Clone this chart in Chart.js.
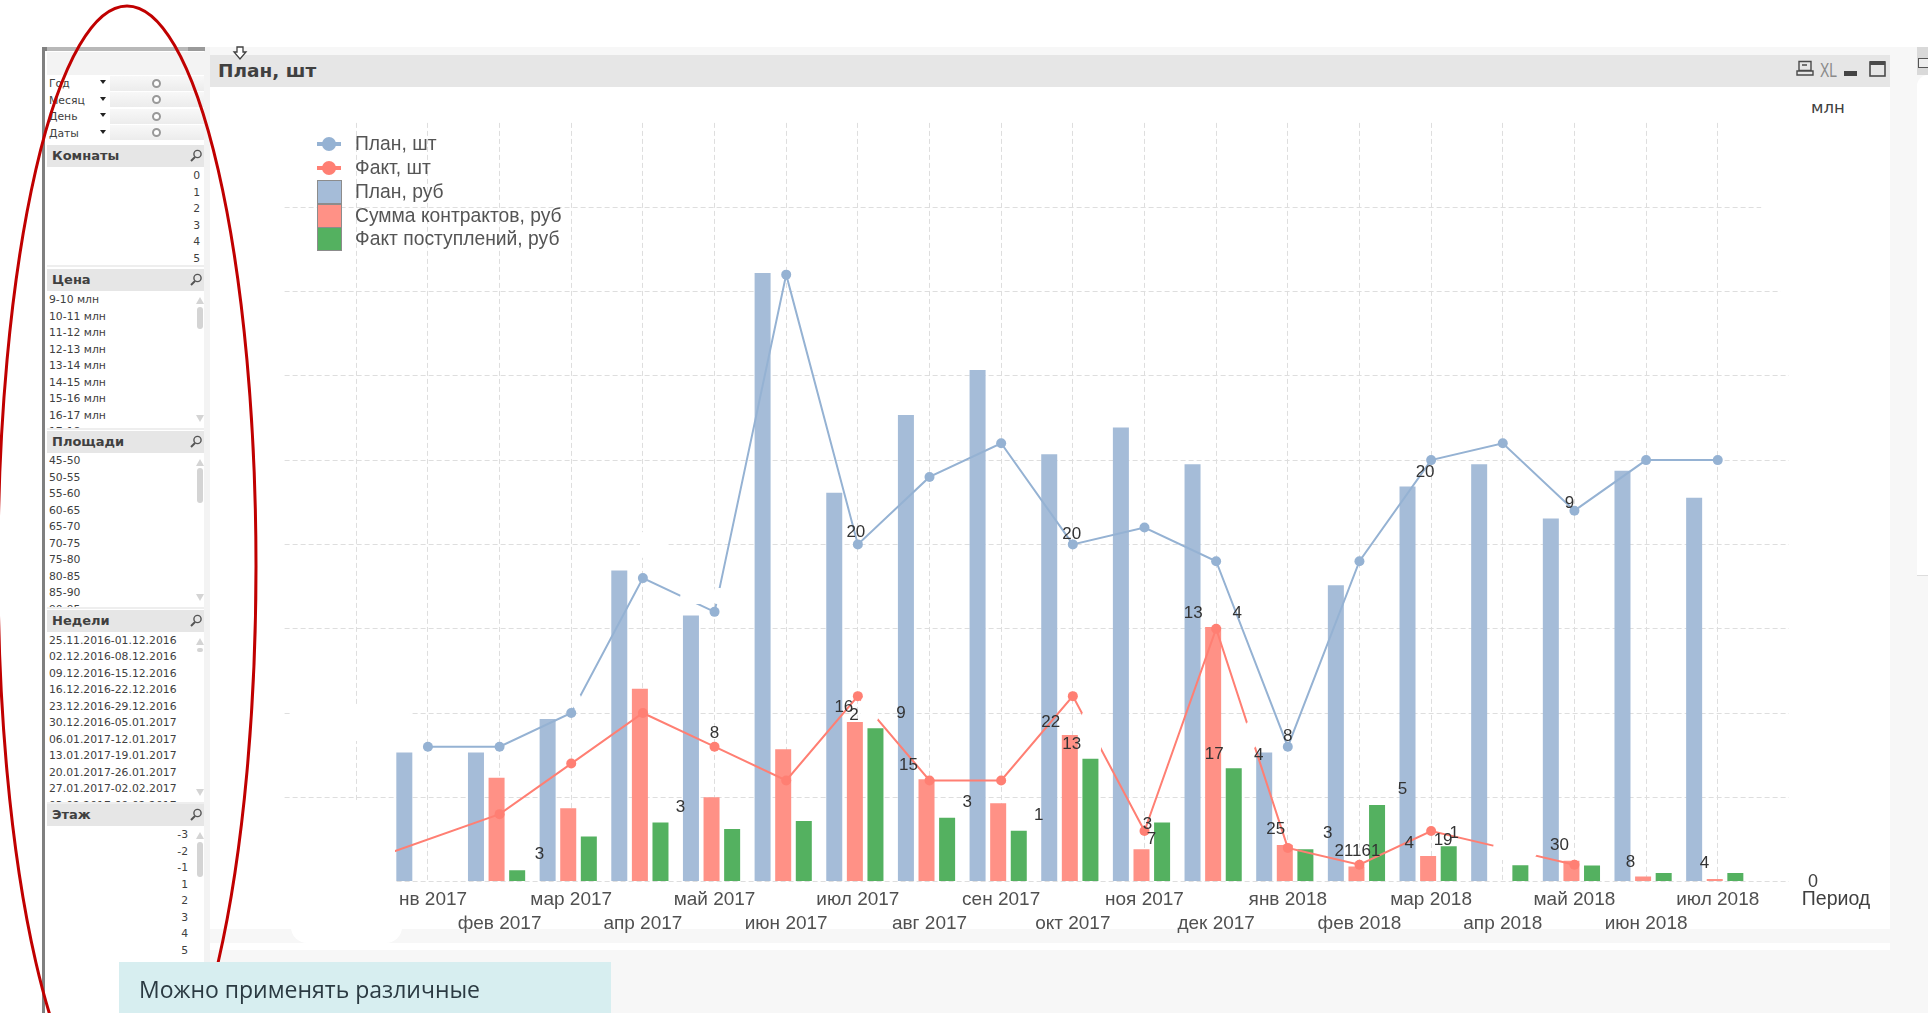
<!DOCTYPE html>
<html lang="ru"><head><meta charset="utf-8">
<script src="https://cdn.jsdelivr.net/npm/chart.js@4/dist/chart.umd.min.js"></script>
<style>
html,body{margin:0;padding:0;background:#fff;width:1928px;height:1013px;overflow:hidden}
body{font-family:"Liberation Sans",sans-serif;color:#404040;position:relative}
.a{position:absolute}
#c{position:absolute;left:0;top:0}
.hdr{position:absolute;left:47px;width:157px;height:22px;background:#e6e6e6;font:bold 13px "DejaVu Sans",sans-serif;line-height:22px;text-indent:5px;color:#404040}
.hdr svg{position:absolute;left:142px;top:4px}
.it{position:absolute;font:10.8px "DejaVu Sans",sans-serif;color:#404040;white-space:nowrap;transform:translateY(-50%)}
.mask{position:absolute;background:#fff;border-radius:8px}
</style></head><body>
<div class="a" style="left:205px;top:47px;right:0;height:8px;background:#f7f7f7"></div>
<div class="a" style="left:204px;top:47px;width:6px;bottom:0;background:#f3f3f3"></div>
<div class="a" style="left:1890px;top:47px;right:0;bottom:0;background:#f7f7f7"></div>
<div class="a" style="left:210px;top:929px;width:1680px;height:14px;background:#f7f7f7"></div>
<div class="a" style="left:210px;top:950px;right:0;bottom:0;background:#f7f7f7"></div>
<div class="a" style="left:210px;top:55px;width:1680px;height:32px;background:#e6e6e6"></div>
<div class="a" style="left:218px;top:57px;font:bold 18.5px 'DejaVu Sans',sans-serif;color:#404040;line-height:28px">План, шт</div>
<svg class="a" style="left:232px;top:46px" width="16" height="14"><path d="M5 1h6v5h3L8 13 2 6h3z" fill="#fff" stroke="#404040" stroke-width="1.3"/></svg>
<div class="a" style="left:1820px;top:58px;font:20px 'Liberation Sans',sans-serif;color:#8a8a8a;transform:scaleX(.7);transform-origin:left;line-height:24px">XL</div>
<svg class="a" style="left:1796px;top:60px" width="92" height="18">
 <path d="M3 1.5h12v9H3zM1 11h16v4H1z" fill="none" stroke="#4a4a4a" stroke-width="1.4"/><path d="M6 5h5" stroke="#4a4a4a" stroke-width="1.5"/>
 <rect x="48" y="11" width="13" height="5" fill="#444"/>
 <rect x="74" y="2" width="15" height="14" fill="none" stroke="#4a4a4a" stroke-width="1.6"/><rect x="74" y="1" width="15" height="4" fill="#4a4a4a"/>
</svg>
<div class="a" style="left:1811px;top:98px;font:16.5px 'DejaVu Sans',sans-serif;color:#404040">млн</div>
<div class="a" style="left:1917px;top:47px;width:11px;height:28px;background:#d9d9d9"></div>
<div class="a" style="left:1918px;top:58px;width:10px;height:10px;background:#eee;border:1.5px solid #555;border-right:0;box-sizing:border-box"></div>
<div class="a" style="left:1917px;top:75px;width:11px;height:500px;background:#fff;border-bottom:1px solid #ddd;border-radius:40px 0 0 0"></div>

<canvas id="c" width="1928" height="1013"></canvas>

<div class="mask" style="left:278px;top:800px;width:117px;height:84px;border-radius:0"></div>
<div class="mask" style="left:278px;top:884px;width:120px;height:44px;border-radius:0"></div>
<div class="mask" style="left:291px;top:927px;width:111px;height:16px;border-radius:0 0 40px 40px"></div>
<div class="mask" style="left:290px;top:705px;width:100px;height:36px;"></div>
<div class="mask" style="left:385px;top:706px;width:25px;height:14px;"></div>
<div class="mask" style="left:573px;top:694px;width:8px;height:15px;"></div>
<div class="mask" style="left:640px;top:530px;width:27px;height:30px;"></div>
<div class="mask" style="left:680px;top:590px;width:30px;height:14px;"></div>
<div class="mask" style="left:714px;top:588px;width:9px;height:16px;border-radius:3px"></div>
<div class="mask" style="left:861px;top:698px;width:17px;height:23px;border-radius:3px"></div>
<div class="mask" style="left:1082px;top:712px;width:19px;height:40px;border-radius:3px"></div>
<div class="mask" style="left:1246px;top:722px;width:10px;height:26px;border-radius:3px"></div>
<div class="mask" style="left:1493px;top:840px;width:44px;height:20px;"></div>
<div class="mask" style="left:1761px;top:196px;width:40px;height:18px;"></div>
<div class="mask" style="left:1780px;top:282px;width:20px;height:16px;"></div>

<div id="side"></div>
<div class="a" style="left:42px;top:47px;width:3px;bottom:0;background:#808080"></div>
<div class="a" style="left:43px;top:47px;width:162px;height:4px;background:#b8b8b8"></div>
<div class="a" style="left:188px;top:47px;width:17px;height:4px;background:#9a9a9a"></div>
<div class="a" style="left:43px;top:47px;width:4px;height:4px;background:#808080"></div>
<div id="leg"></div>
<svg class="a" style="left:0;top:0" width="1928" height="1013"><ellipse cx="127" cy="566" rx="129" ry="560" fill="none" stroke="#c00000" stroke-width="3"/></svg>
<div class="a" style="left:119px;top:962px;width:492px;height:51px;background:#d7eef0;overflow:hidden">
 <div style="position:absolute;left:20px;top:10px;font:23px/34px 'Open Sans',sans-serif;color:#2b3a42;white-space:nowrap">Можно применять различные<br>ф</div>
</div>

<script>
const categories = ['', 'дек 2016', 'янв 2017','фев 2017','мар 2017','апр 2017','май 2017','июн 2017','июл 2017','авг 2017','сен 2017','окт 2017','ноя 2017','дек 2017','янв 2018','фев 2018','мар 2018','апр 2018','май 2018','июн 2018','июл 2018',''];
const planUnits   = [null,null,8,8,10,18,16,36,20,24,26,20,21,19,8,19,25,26,22,25,25,null];
const factUnits   = [null,1,null,4,7,10,8,6,11,6,6,11,3,15,2,1,3,2,1,null,null,null];
const planRub     = [null,null,76.5,76.5,96.4,184.5,157.8,361,230.7,276.7,303.4,253.4,269.4,247.5,76.5,175.7,234.4,247.5,215.4,243.7,227.7,null];
const contractRub = [null,null,null,61.6,43.5,114.4,50,78.5,94.6,60.7,46.4,87,19.2,151,21.7,8.9,15.2,null,12.4,3,1.5,null];
const receiptRub  = [null,null,null,6.7,26.7,35,31.2,36,90.9,37.9,30.2,72.9,35,67.2,19.2,45.4,20.9,9.7,9.5,5.1,5.1,null];
const seriesNames = ['План, шт','Факт, шт','План, руб','Сумма контрактов, руб','Факт поступлений, руб'];
const valueNotes = [
 ['8','fact',6,0,-13],['20','plan',8,-2,-12],['20','plan',11,-1,-10],['4','fact',13,21,-15],['8','plan',14,0,-10],
 ['22','fact',11,-22,26],['21161','fact',15,-2,-13],['19','fact',16,12,9],['4','fact',16,-22,12],['1','fact',16,23,2],
 ['30','fact',18,-15,-19],['20','plan',16,-6,12],['9','plan',18,-5,-7],['8','fact',18,56,-2],['4','fact',18,130,-1],
 ['5','fact',15,43,-75],['15','fact',9,-21,-15],['16','fact',8,-14,11],['2','fact',8,-4,19],['9','fact',8,43,17],
 ['3','fact',12,3,-7],['7','fact',12,7,8],['17','fact',13,-2,126],['4','fact',14,-29,-93],['25','fact',14,-12,-19],['3','fact',14,40,-15],
 ['13','fact',13,-23,-15],['3','fact',10,-34,22],['1','fact',11,-34,119],['13','fact',11,-1,48],['3','fact',6,-34,61],['3','fact',3,40,40]
];
const xLabels = categories.map((c,i)=> (i===1||c==='') ? '' : ((i%2===0) ? [c] : ['', c]));
const gridColor = '#dedede';
const BLUE='#a5bcd8', RED='#ff9186', GREEN='#54b160', LBLUE='#95b2d3', LRED='#ff7f73';

const noteLayer = {
 id:'noteLayer',
 afterDatasetsUpdate(chart){
  chart.data.datasets.forEach((d,i)=>{ if(d.type==='bar') chart.getDatasetMeta(i).data.forEach(b=>{b.x-=3}); });
 },
 afterDatasetsDraw(chart){
  const {ctx,scales}=chart;
  ctx.save(); ctx.font='17px "Liberation Sans",sans-serif'; ctx.fillStyle='#333'; ctx.textAlign='center'; ctx.textBaseline='middle';
  const src={plan:planUnits,fact:factUnits};
  valueNotes.forEach(([t,s,i,dx,dy])=>{ if(src[s][i]==null) return;
    ctx.fillText(t, scales.x.getPixelForValue(i)+dx, scales.y1.getPixelForValue(src[s][i])+dy); });
  ctx.fillStyle='#404040'; ctx.font='18px "Liberation Sans",sans-serif'; ctx.fillText('0',1813,scales.y.getPixelForValue(0)); ctx.font='19.5px "Liberation Sans",sans-serif'; ctx.fillText('Период',1836,900);
  ctx.restore();
 }
};

new Chart(document.getElementById('c'),{
 type:'bar',
 data:{labels:xLabels,datasets:[
  {type:'line',label:seriesNames[0],data:planUnits,yAxisID:'y1',borderColor:LBLUE,backgroundColor:LBLUE,borderWidth:2,pointRadius:5,pointBorderWidth:0,tension:0,order:0,spanGaps:false},
  {type:'line',label:seriesNames[1],data:factUnits,yAxisID:'y1',borderColor:LRED,backgroundColor:LRED,borderWidth:2,pointRadius:c=>c.dataIndex===1?0:5,pointBorderWidth:0,tension:0,order:0,spanGaps:true},
  {type:'bar',label:seriesNames[2],data:planRub,yAxisID:'y',backgroundColor:BLUE,order:1,categoryPercentage:0.8624,barPercentage:0.777},
  {type:'bar',label:seriesNames[3],data:contractRub,yAxisID:'y',backgroundColor:RED,order:1,categoryPercentage:0.8624,barPercentage:0.777},
  {type:'bar',label:seriesNames[4],data:receiptRub,yAxisID:'y',backgroundColor:GREEN,order:1,categoryPercentage:0.8624,barPercentage:0.777}
 ]},
 options:{
  responsive:false,animation:false,
  layout:{padding:{left:284.6,top:122.9,right:88.6,bottom:71.4}},
  plugins:{legend:{display:false},tooltip:{enabled:false}},
  scales:{
   x:{type:'category',offset:false,position:'bottom',
      afterFit:s=>{s.height=60},
      grid:{offset:false,color:c=>(c.index===0||c.index===21)?'transparent':gridColor,lineWidth:1,drawTicks:false},
      border:{display:false,dash:[5,3]},
      ticks:{autoSkip:false,maxRotation:0,minRotation:0,padding:6,color:'#505050',font:{family:'"Liberation Sans",sans-serif',size:19,lineHeight:1.26}}},
   y:{position:'right',min:0,max:450,
      afterFit:s=>{s.width=50},
      afterBuildTicks:s=>{s.ticks=[0,50,100,150,200,250,300,350,400,450].map(v=>({value:v}))},
      grid:{color:c=>c.tick.value===450?'transparent':gridColor,lineWidth:1,drawTicks:false},
      border:{display:false,dash:[5,3]},
      ticks:{display:false}},
   y1:{position:'right',min:0,max:45,display:false,grid:{display:false}}
  }
 },
 plugins:[noteLayer]
});

const dateFields=['Год','Месяц','День','Даты'];
const rooms=['0','1','2','3','4','5'];
const prices=['9-10 млн','10-11 млн','11-12 млн','12-13 млн','13-14 млн','14-15 млн','15-16 млн','16-17 млн','17-18 млн'];
const areas=['45-50','50-55','55-60','60-65','65-70','70-75','75-80','80-85','85-90','90-95'];
const weeks=['25.11.2016-01.12.2016','02.12.2016-08.12.2016','09.12.2016-15.12.2016','16.12.2016-22.12.2016','23.12.2016-29.12.2016','30.12.2016-05.01.2017','06.01.2017-12.01.2017','13.01.2017-19.01.2017','20.01.2017-26.01.2017','27.01.2017-02.02.2017','03.02.2017-09.02.2017'];
const floors=['-3','-2','-1','1','2','3','4','5','6'];
const side=document.getElementById('side');
const mag='<svg width="14" height="14"><circle cx="8.5" cy="5" r="3.6" fill="none" stroke="#555" stroke-width="1.4"/><path d="M6 8L2 12" stroke="#555" stroke-width="2"/></svg>';
function el(html){side.insertAdjacentHTML('beforeend',html)}
el('<div class="a" style="left:47px;top:52px;width:157px;height:961px;background:#fff"></div>');
el('<div class="a" style="left:47px;top:52px;width:157px;height:23px;background:#f3f3f3"></div>');
dateFields.forEach((t,i)=>{const y=83.3+i*16.5;
 el(`<div class="a" style="left:110px;top:${y-7.5}px;width:94px;height:15px;background:linear-gradient(#f8f8f8,#ececec)"></div>`);
 el(`<div class="it" style="left:49px;top:${y}px">${t}</div>`);
 el(`<div class="a" style="left:100px;top:${y-3}px;width:0;height:0;border:3px solid transparent;border-top:4px solid #222"></div>`);
 el(`<div class="a" style="left:152px;top:${y-4.5}px;width:5px;height:5px;border:2px solid #999;border-radius:50%;background:#fff"></div>`);
});
function section(title,top,items,y0,step,rightAlign,bottom,scroll){
 el(`<div class="hdr" style="top:${top}px">${title}${mag}</div>`);
 let h=`<div class="a" style="left:47px;top:${top+22}px;width:157px;height:${bottom-top-22}px;overflow:hidden;background:#fff">`;
 items.forEach((t,i)=>{const y=y0+i*step-top-22;
  h+=`<div class="it" style="${rightAlign?'right:'+(scroll?16:4)+'px':'left:2px'};top:${y}px">${t}</div>`;});
 if(scroll){h+=`<div class="a" style="left:149px;top:6px;width:0;height:0;border:4px solid transparent;border-bottom:7px solid #d4d4d4;border-top:0"></div>`;
  h+=`<div class="a" style="left:150px;top:${scroll[0]-top-22}px;width:6px;height:${scroll[1]}px;background:#d4d4d4;border-radius:3px"></div>`;
  if(bottom<1000)h+=`<div class="a" style="left:149px;top:${bottom-top-22-13}px;width:0;height:0;border:4px solid transparent;border-top:7px solid #d4d4d4;border-bottom:0"></div>`;}
 h+='</div>';el(h);
 el(`<div class="a" style="left:47px;top:${bottom}px;width:157px;height:2px;background:#eee"></div>`);
}
section('Комнаты',145,rooms,175,16.5,true,265,null);
section('Цена',269,prices,299,16.5,false,428,[307,22]);
section('Площади',431,areas,460,16.5,false,607,[468,35]);
section('Недели',610,weeks,639.6,16.5,false,802,[648,4]);
section('Этаж',804,floors,834,16.5,true,1013,[842,35]);

const leg=document.getElementById('leg');
const ly=[144,167.5,192,215.5,239];
seriesNames.forEach((t,i)=>{
 let m;
 if(i<2){const c=i?LRED:LBLUE;m=`<div class="a" style="left:317px;top:${ly[i]-2}px;width:24px;height:4px;background:${c}"></div><div class="a" style="left:322px;top:${ly[i]-7}px;width:14px;height:14px;border-radius:50%;background:${c}"></div>`;}
 else {const c=[BLUE,RED,GREEN][i-2];m=`<div class="a" style="left:317px;top:${ly[i]-12}px;width:25px;height:24px;background:${c};border:1px solid #8c8c8c;box-sizing:border-box"></div>`;}
 leg.insertAdjacentHTML('beforeend',m+`<div class="a" style="left:355px;top:${ly[i]-11}px;font:19.3px/22px 'Liberation Sans',sans-serif;color:#555;white-space:nowrap">${t}</div>`);
});
</script>
</body></html>
